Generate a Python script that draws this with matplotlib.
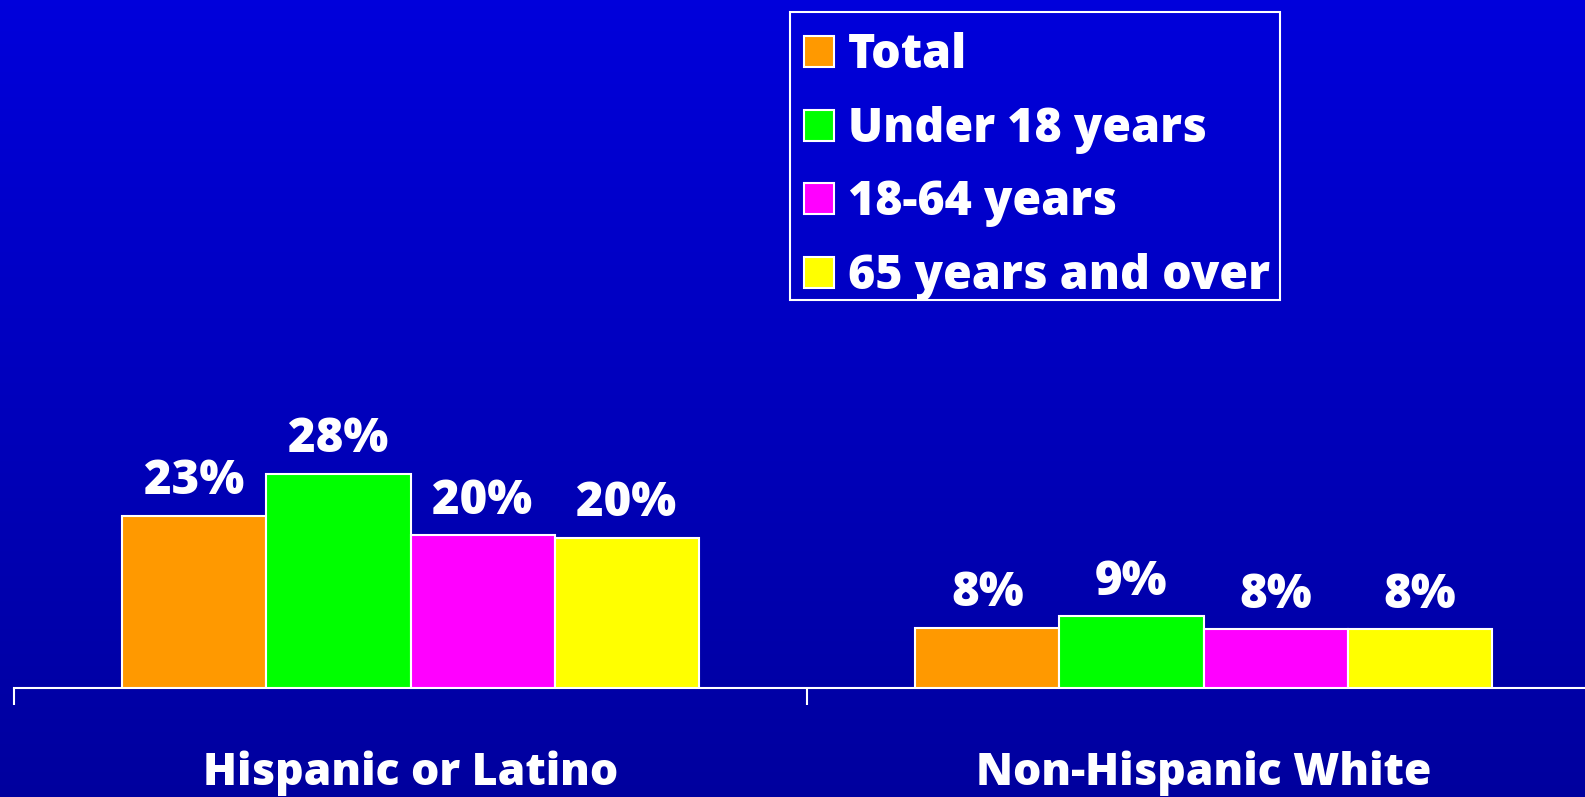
import numpy as np
import matplotlib
matplotlib.use("Agg")
import matplotlib.pyplot as plt
from matplotlib.patches import Patch, Rectangle

# ---- data ----
categories = ["Hispanic or Latino", "Non-Hispanic White"]
series_names = ["Total", "Under 18 years", "18-64 years", "65 years and over"]
total = [22.6, 7.9]
under18 = [28.1, 9.4]
age18_64 = [20.0, 7.7]
age65 = [19.7, 7.7]
series_values = [total, under18, age18_64, age65]
colors = ["#FF9900", "#00FF00", "#FF00FF", "#FFFF00"]

FONT = "Open Sans"
WEIGHT = 800
W, H = 1585, 797
fig = plt.figure(figsize=(W / 100, H / 100), dpi=100)

# gradient background
bg = fig.add_axes([0, 0, 1, 1], zorder=-10)
grad = np.linspace(0, 1, 256).reshape(-1, 1)
top = np.array([0.0, 0.0, 0.86])
bot = np.array([0.0, 0.0, 0.62])
img = top[None, None, :] * (1 - grad[:, :, None]) + bot[None, None, :] * grad[:, :, None]
bg.imshow(img, aspect="auto", extent=[0, 1, 0, 1])
bg.set_axis_off()

# main axes
left_px, base_px = 14, 688
cat_w_px = 793
ax = fig.add_axes([left_px / W, (H - base_px) / H, 2 * cat_w_px / W, base_px / H])
ax.set_facecolor("none")
ax.set_xlim(0, 2)
ax.set_ylim(0, 90.2)

bar_w = 0.1816
x = np.arange(len(categories)) + 0.5
for i, (vals, c) in enumerate(zip(series_values, colors)):
    xs = x + (i - 1.5) * bar_w
    bars = ax.bar(xs, vals, width=bar_w, color=c, edgecolor="white", linewidth=1.5, zorder=3)
    for b, v in zip(bars, vals):
        ax.annotate(f"{v:.0f}%", (b.get_x() + b.get_width() / 2, b.get_height()),
                    xytext=(0, 15.5), textcoords="offset points", ha="center", va="baseline",
                    color="white", fontsize=34, fontweight=WEIGHT, family=FONT)

for s in ["left", "right", "top"]:
    ax.spines[s].set_visible(False)
ax.spines["bottom"].set_color("white")
ax.spines["bottom"].set_linewidth(1.5)
ax.set_yticks([])
ax.set_xticks(x)
ax.set_xticklabels(categories, color="white", fontsize=32, fontweight=WEIGHT, family=FONT)
ax.tick_params(axis="x", which="major", length=0, pad=45)
ax.set_xticks([0, 1, 2], minor=True)
ax.tick_params(axis="x", which="minor", length=12.5, width=1.5, color="white")

handles = [Patch(facecolor=c, edgecolor="white", linewidth=1.5) for c in colors]
leg = fig.legend(handles, series_names, loc="upper left",
                 bbox_to_anchor=(790 / W, 1 - 18 / H), bbox_transform=fig.transFigure,
                 borderaxespad=0, frameon=False,
                 prop={"family": FONT, "weight": WEIGHT, "size": 33.5},
                 handlelength=0.64, handleheight=0.64, handletextpad=0.3,
                 labelspacing=0.55, borderpad=0.3)
for t in leg.get_texts():
    t.set_color("white")
# legend frame box
fig.patches.append(Rectangle((790 / W, 1 - 300 / H), 490 / W, 288 / H,
                             transform=fig.transFigure, facecolor="none",
                             edgecolor="white", linewidth=1.5))

fig.savefig("out.png", dpi=100)
